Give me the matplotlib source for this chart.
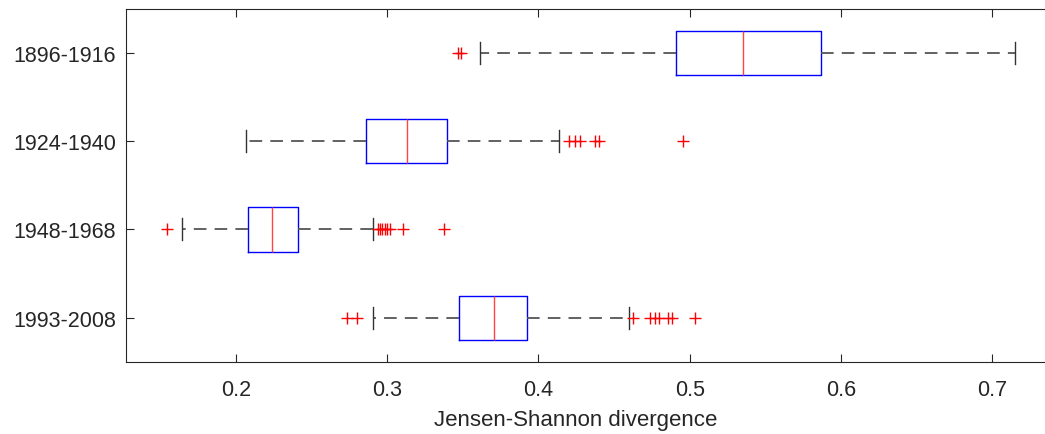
import numpy as np
from matplotlib import pyplot as plt

plt.rcParams['font.family'] = ['Liberation Sans', 'DejaVu Sans']

# groups from top to bottom
groups = ['1896-1916', '1924-1940', '1948-1968', '1993-2008']
whislo = [0.3615, 0.2066, 0.1647, 0.2909]
q1 = [0.4910, 0.2861, 0.2079, 0.3478]
med = [0.5351, 0.3134, 0.2238, 0.3709]
q3 = [0.5866, 0.3395, 0.2414, 0.3925]
whishi = [0.7151, 0.4139, 0.2905, 0.4601]
fliers = [
    [0.3469, 0.3487],
    [0.4205, 0.4243, 0.4276, 0.4375, 0.4401, 0.4954],
    [0.1544, 0.2939, 0.2954, 0.2969, 0.2987, 0.3002, 0.3020, 0.3108, 0.3379],
    [0.2738, 0.2804, 0.4628, 0.4738, 0.4771, 0.4800, 0.4859, 0.4882, 0.5036],
]
xticks = [0.2, 0.3, 0.4, 0.5, 0.6, 0.7]


def main():
    W, H = 1045, 435
    fig = plt.figure(figsize=(W / 100, H / 100), dpi=100)
    ax = fig.add_axes([125.7 / W, 1 - 363 / H, (W - 125.7) / W, (363 - 9.5) / H])

    stats = []
    for i in range(len(groups)):
        stats.append(dict(med=med[i], q1=q1[i], q3=q3[i], whislo=whislo[i],
                          whishi=whishi[i], fliers=fliers[i], label=groups[i]))
    pos = list(range(len(groups), 0, -1))

    ax.bxp(stats, positions=pos, orientation='horizontal', widths=0.5,
           capwidths=0.25, showfliers=True,
           boxprops=dict(color='#0000ff', lw=1.0),
           medianprops=dict(color='#ff4444', lw=1.0),
           whiskerprops=dict(color='#555555', lw=1.3, linestyle=(0, (7, 4.5))),
           capprops=dict(color='#333333', lw=1.0),
           flierprops=dict(marker='+', markeredgecolor='#ff0000',
                           markersize=8, markeredgewidth=1.0, linestyle='none'))

    ax.set_ylim(0.5, 4.5)
    ax.set_xlim(0.1273, 0.7348)
    ax.set_xticks(xticks)
    ax.set_xticklabels([str(t) for t in xticks])
    ax.set_yticks(pos)
    ax.set_yticklabels(groups)
    ax.tick_params(direction='in', length=6, width=0.8, colors='#262626',
                   labelsize=15.5)
    ax.tick_params(axis='x', pad=12)
    ax.tick_params(axis='y', pad=7)
    ax.tick_params(top=True, right=False)
    for s in ['left', 'bottom', 'top']:
        ax.spines[s].set_color('#262626')
        ax.spines[s].set_linewidth(0.8)
    ax.spines['right'].set_visible(False)
    ax.set_xlabel('Jensen-Shannon divergence', fontsize=16, color='#262626')
    ax.xaxis.set_label_coords(0.489, -0.133)
    ax.xaxis.label.set_va('top')

    fig.savefig('out.png', dpi=100)


if __name__ == "__main__":
    main()
